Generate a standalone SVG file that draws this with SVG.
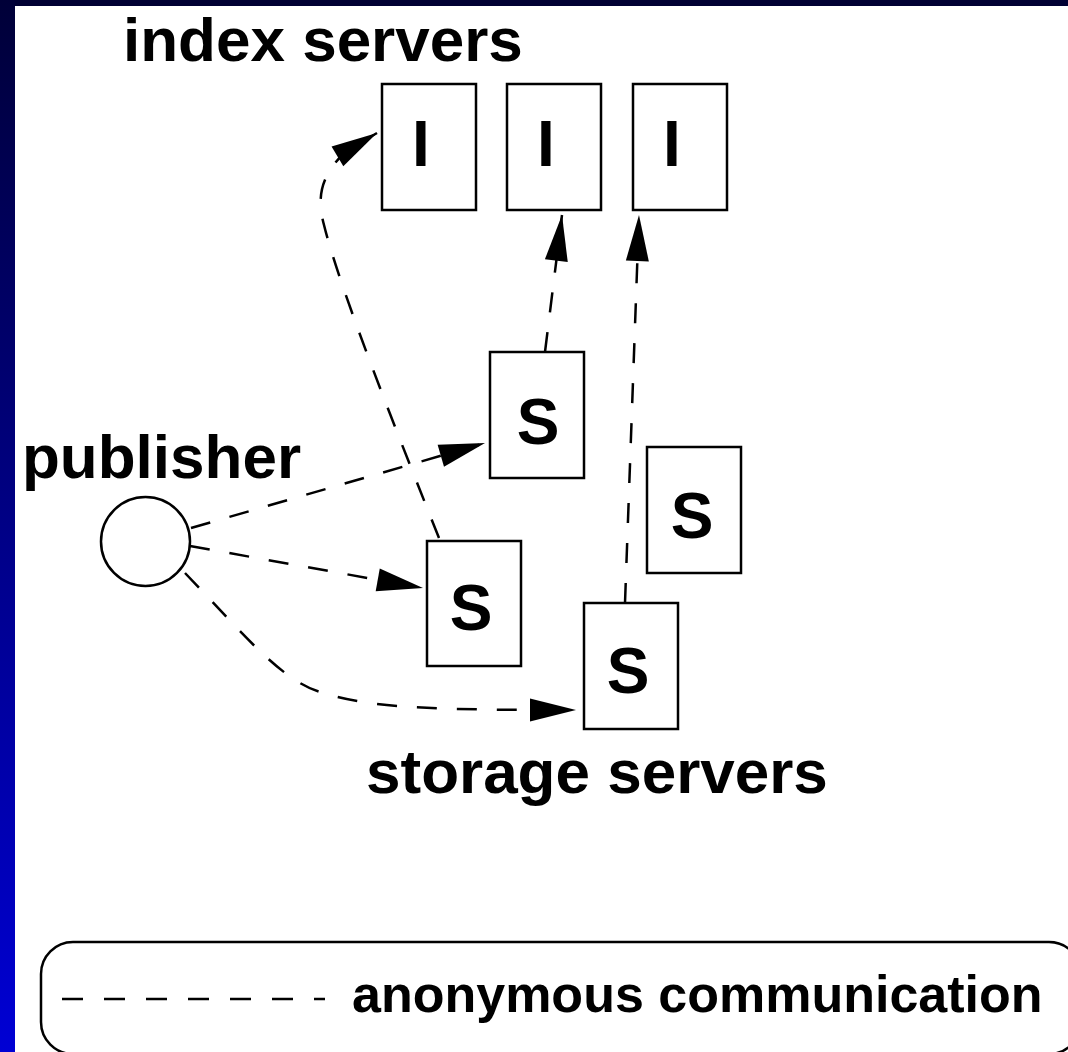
<svg xmlns="http://www.w3.org/2000/svg" width="1068" height="1052" viewBox="0 0 1068 1052">
<defs>
<linearGradient id="side" x1="0" y1="0" x2="0" y2="1">
<stop offset="0" stop-color="#000038"/>
<stop offset="1" stop-color="#0000d4"/>
</linearGradient>
<marker id="ah" markerUnits="userSpaceOnUse" markerWidth="60" markerHeight="40" viewBox="-50 -20 60 40" refX="0" refY="0" orient="auto">
<path d="M0,0 L-46,-11.5 L-46,11.5 Z" fill="#000"/>
</marker>
<style>
.box{fill:#fff;stroke:#000;stroke-width:2.5}
.lbl{font-family:"Liberation Sans",Arial,sans-serif;font-weight:bold;fill:#000}
.big{font-size:62px}
.node{font-size:64px}
.conn{fill:none;stroke:#000;stroke-width:2.5;stroke-dasharray:20 20}
</style>
</defs>
<rect x="0" y="0" width="1068" height="1052" fill="#fff"/>
<rect x="0" y="0" width="1068" height="6" fill="#000033"/>
<rect x="0" y="0" width="15" height="1052" fill="url(#side)"/>

<text class="lbl big" x="123" y="61">index servers</text>
<text class="lbl big" x="22" y="478">publisher</text>
<text class="lbl big" x="366" y="793">storage servers</text>

<g id="I1"><rect class="box" x="382" y="84" width="94" height="126"/><text class="lbl node" x="421" y="166" text-anchor="middle">I</text></g>
<g id="I2"><rect class="box" x="507" y="84" width="94" height="126"/><text class="lbl node" x="546" y="166" text-anchor="middle">I</text></g>
<g id="I3"><rect class="box" x="633" y="84" width="94" height="126"/><text class="lbl node" x="672" y="166" text-anchor="middle">I</text></g>
<g id="S1"><rect class="box" x="490" y="352" width="94" height="126"/><text class="lbl node" x="538" y="444" text-anchor="middle">S</text></g>
<g id="S2"><rect class="box" x="647" y="447" width="94" height="126"/><text class="lbl node" x="692" y="538" text-anchor="middle">S</text></g>
<g id="S3"><rect class="box" x="427" y="541" width="94" height="125"/><text class="lbl node" x="471" y="630" text-anchor="middle">S</text></g>
<g id="S4"><rect class="box" x="584" y="603" width="94" height="126"/><text class="lbl node" x="628" y="693" text-anchor="middle">S</text></g>
<g id="publisher"><circle cx="145.5" cy="541.5" r="44.5" fill="#fff" stroke="#000" stroke-width="2.5"/></g>

<g id="connectors">
<path class="conn" d="M191,528 L485,443" marker-end="url(#ah)"/>
<path class="conn" d="M190,546 L423,588" marker-end="url(#ah)"/>
<path class="conn" d="M185,573 C240,630 280,680 320,692 C370,708 430,710 576,710" marker-end="url(#ah)"/>
<path class="conn" d="M439,538 C400,440 340,290 324,225 C316,195 322,175 345,152 L377,133" marker-end="url(#ah)"/>
<path class="conn" d="M545,352 L562,215" marker-end="url(#ah)"/>
<path class="conn" d="M625,603 L639,215" marker-end="url(#ah)"/>
</g>

<g id="legend">
<rect x="41" y="942" width="1040" height="112" rx="32" ry="32" fill="none" stroke="#000" stroke-width="2.5"/>
<path d="M62,999 L325,999" fill="none" stroke="#000" stroke-width="2.5" stroke-dasharray="21 21"/>
<text class="lbl" x="352" y="1012" font-size="52">anonymous communication</text>
</g>
</svg>
